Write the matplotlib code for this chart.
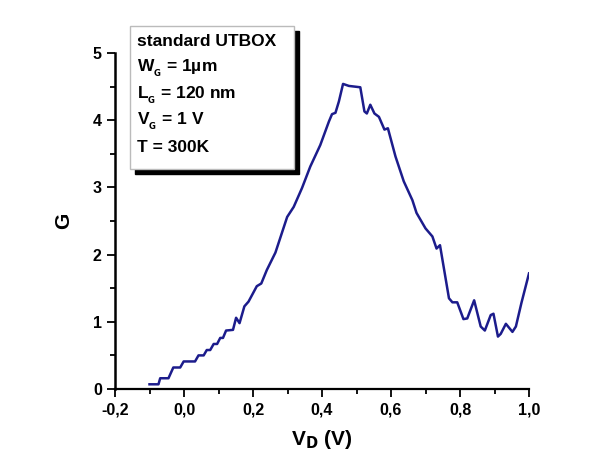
import matplotlib.pyplot as plt
from matplotlib.patches import Rectangle
from matplotlib.ticker import MultipleLocator, FuncFormatter

plt.rcParams['font.family'] = ['Liberation Sans', 'DejaVu Sans']
plt.rcParams['font.weight'] = 'bold'
plt.rcParams['mathtext.default'] = 'bf'

# V_D (V) and G
vd = [-0.100, -0.074, -0.069, -0.045, -0.031, -0.011, -0.001, 0.032, 0.042, 0.057,
      0.066, 0.076, 0.086, 0.096, 0.105, 0.113, 0.122, 0.142, 0.151, 0.161,
      0.175, 0.187, 0.211, 0.224, 0.240, 0.265, 0.299, 0.318, 0.342, 0.366,
      0.395, 0.420, 0.429, 0.439, 0.449, 0.461, 0.478, 0.511, 0.523, 0.530,
      0.540, 0.552, 0.565, 0.581, 0.591, 0.613, 0.637, 0.662, 0.674, 0.700,
      0.720, 0.732, 0.742, 0.768, 0.778, 0.792, 0.810, 0.821, 0.841, 0.860,
      0.872, 0.889, 0.897, 0.910, 0.918, 0.933, 0.952, 0.962, 0.978, 1.000]
g = [0.07, 0.07, 0.16, 0.16, 0.32, 0.32, 0.41, 0.41, 0.50, 0.50,
     0.58, 0.58, 0.67, 0.67, 0.76, 0.76, 0.87, 0.88, 1.06, 0.98,
     1.23, 1.30, 1.53, 1.57, 1.77, 2.03, 2.56, 2.71, 2.99, 3.31,
     3.63, 3.98, 4.09, 4.11, 4.28, 4.54, 4.51, 4.49, 4.13, 4.10,
     4.23, 4.10, 4.05, 3.86, 3.88, 3.46, 3.09, 2.81, 2.62, 2.39,
     2.27, 2.09, 2.14, 1.35, 1.29, 1.29, 1.04, 1.05, 1.32, 0.93,
     0.87, 1.10, 1.12, 0.78, 0.82, 0.97, 0.85, 0.93, 1.28, 1.72]

info_lines = ['standard UTBOX', r'W$_{_{G}}$ = 1µm', r'L$_{_{G}}$ = 120 nm',
              r'V$_{_{G}}$ = 1 V', 'T = 300K']

fig = plt.figure(figsize=(5.97, 4.63), dpi=100)
ax = fig.add_axes([115 / 597, 74 / 463, 414 / 597, 336 / 463])
ax.plot(vd, g, color='#1c1c8c', lw=1.8)

ax.set_xlim(-0.2, 1.0)
ax.set_ylim(0, 5)
ax.xaxis.set_major_locator(MultipleLocator(0.2))
ax.xaxis.set_minor_locator(MultipleLocator(0.1))
ax.yaxis.set_major_locator(MultipleLocator(1))
ax.yaxis.set_minor_locator(MultipleLocator(0.5))
ax.xaxis.set_major_formatter(FuncFormatter(lambda v, p: f'{v:.1f}'.replace('.', ',').replace('-0,0', '0,0')))
ax.yaxis.set_major_formatter(FuncFormatter(lambda v, p: f'{v:.0f}'))
ax.spines['top'].set_visible(False)
ax.spines['right'].set_visible(False)
ax.spines['left'].set_linewidth(1.8)
ax.spines['bottom'].set_linewidth(1.6)
ax.tick_params(which='major', direction='out', length=6, width=1.3, labelsize=11.5)
ax.tick_params(which='minor', direction='out', length=3.5, width=1.3)
for lbl in ax.get_xticklabels() + ax.get_yticklabels():
    lbl.set_fontweight('bold')

ax.set_xlabel(r'V$_{D}$ (V)', fontsize=15, fontweight='bold', labelpad=8)
ax.set_ylabel('G', fontsize=15, fontweight='bold', labelpad=14)

# text box with drop shadow
bx0, by0, bw, bh = 130 / 597, 1 - 169 / 463, 164 / 597, 143 / 463
shadow = Rectangle((bx0 + 5 / 597, by0 - 5 / 463), bw, bh, transform=fig.transFigure,
                   facecolor='black', edgecolor='black', zorder=5)
box = Rectangle((bx0, by0), bw, bh, transform=fig.transFigure,
                facecolor='white', edgecolor='#bbbbbb', lw=1, zorder=6)
fig.patches.extend([shadow, box])
for i, t in enumerate(info_lines):
    fig.text(bx0 + 7 / 597, 1 - (42 + i * 26.5) / 463, t, fontsize=12.5, fontweight='bold',
             va='center', ha='left', zorder=7)

fig.savefig('out.png', dpi=100)
